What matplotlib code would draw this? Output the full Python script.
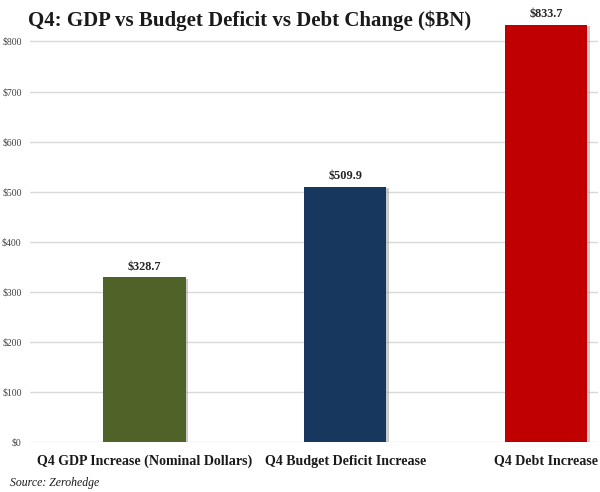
import numpy as np
import matplotlib
matplotlib.use("Agg")
import matplotlib.pyplot as plt
import matplotlib.patheffects as pe

# datos
categories = ["Q4 GDP Increase (Nominal Dollars)", "Q4 Budget Deficit Increase", "Q4 Debt Increase"]
values = [328.7, 509.9, 833.7]
colors = ["#4f6228", "#17375e", "#c00000"]
yticks = [0, 100, 200, 300, 400, 500, 600, 700, 800]

plt.rcParams["font.family"] = ["Liberation Serif", "DejaVu Serif"]

fig = plt.figure(figsize=(6, 4.92), dpi=100)
ax = fig.add_axes([0.05, 0.1016, 0.947, 0.865])

x = np.arange(len(categories))
bars = ax.bar(x, values, width=0.41, color=colors, zorder=3)
for b in bars:
    b.set_path_effects([pe.SimplePatchShadow(offset=(2, -1), shadow_rgbFace="#999999", alpha=0.5), pe.Normal()])

# etiquetas de valor sobre cada barra
for xi, v in zip(x, values):
    ax.annotate(f"${v:.1f}", (xi, v), xytext=(0, 3.5), textcoords="offset points",
                ha="center", va="bottom", fontsize=8.8, fontweight="bold", color="#262626",
                annotation_clip=False)

ax.set_xlim(-0.57, 2.26)
ax.set_ylim(0, 850)
ax.set_yticks(yticks)
ax.set_yticklabels([f"${t}" for t in yticks], fontsize=7, color="#404040")
ax.set_xticks(x)
ax.set_xticklabels(categories, fontsize=10.1, fontweight="bold", color="#1a1a1a")
ax.tick_params(axis="both", length=0)
ax.tick_params(axis="x", pad=9)
ax.tick_params(axis="y", pad=6)
ax.grid(axis="y", color="#d9d9d9", linewidth=1, zorder=0)
for s in ax.spines.values():
    s.set_visible(False)

fig.text(0.047, 0.958, "Q4: GDP vs Budget Deficit vs Debt Change ($BN)", fontsize=15,
         fontweight="bold", color="#1a1a1a", ha="left", va="center")
fig.text(0.016, 0.018, "Source: Zerohedge", fontsize=8.5, style="italic", color="#1a1a1a",
         ha="left", va="center")

fig.savefig("out.png", dpi=100)
